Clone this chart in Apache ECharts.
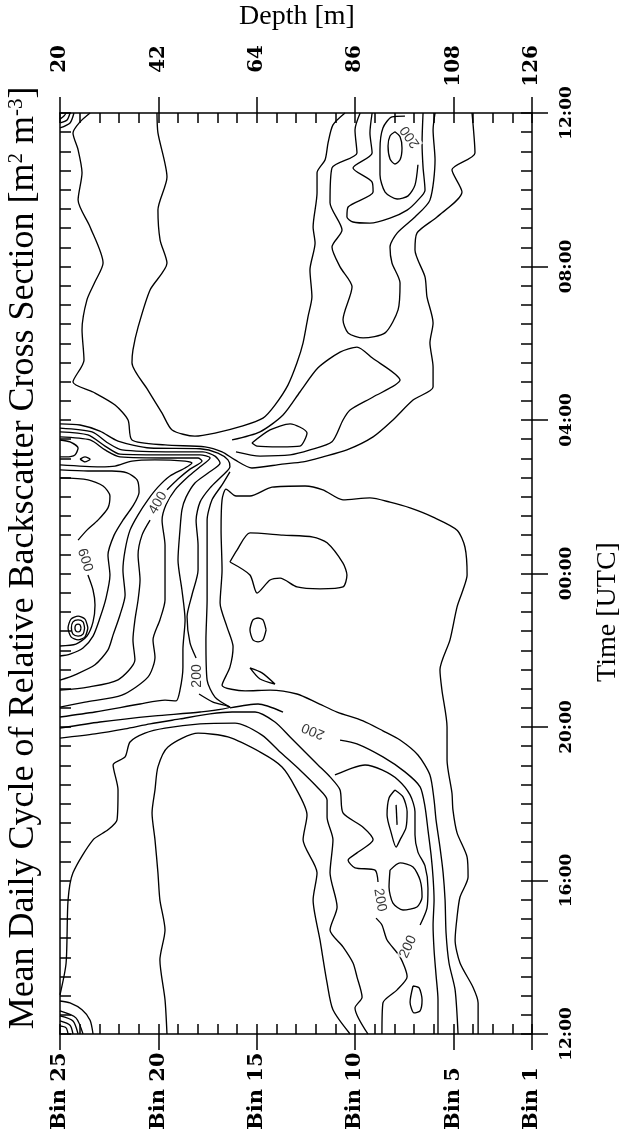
<!DOCTYPE html>
<html>
<head>
<meta charset="utf-8">
<script src="https://cdn.jsdelivr.net/npm/echarts@6/dist/echarts.min.js"></script>
<style>
html, body { margin: 0; padding: 0; background: #fff; }
#chart { width: 635px; height: 1140px; }
</style>
</head>
<body>
<div id="chart"></div>
<script>
// x = ADCP bin (25 left .. 1 right), y = time of day in hours, 12 .. 36 (12:00 to 12:00 next day)
var binTicks = [25, 20, 15, 10, 5, 1];
var depthTicks = ['20', '42', '64', '86', '108', '126'];
var hourTicks = [12, 16, 20, 24, 28, 32, 36];

// contour lines, [bin, hour]
var cornerTop1 = [[24.69,36.00],[24.80,35.92],[25.00,35.84]];
var cornerTop2 = [[24.49,36.00],[24.64,35.82],[25.00,35.74]];
var cornerTop3 = [[24.29,36.00],[24.49,35.74],[25.00,35.61]];

var morningEdge = [[23.47,36.00],[23.98,35.77],[24.34,35.48],[24.08,35.04],[23.88,34.44],[24.08,33.73],[23.47,33.03],[22.81,32.09],[23.22,31.60],[23.63,31.13],[23.88,30.35],[23.78,29.56],[24.34,28.99],[23.32,28.73],[22.20,28.39],[21.54,28.00],[21.34,27.48],[19.66,27.35],[17.63,27.30],[16.76,27.17],[16.10,26.96],[15.24,26.75],[13.71,26.85],[12.64,26.91],[11.63,27.04],[10.41,27.22],[9.08,27.56],[8.07,28.00],[7.05,28.52],[6.03,28.86],[6.03,29.38],[6.19,30.01],[6.03,30.53],[6.34,31.21],[6.44,31.73],[6.95,32.43],[6.85,32.87],[5.83,33.29],[4.56,33.94],[5.07,34.52],[3.90,34.96],[4.05,36.00]];
var morningLow = [[20.07,36.00],[20.02,35.48],[19.56,34.33],[20.02,33.47],[19.91,32.69],[19.56,32.09],[20.42,31.39],[21.03,30.42],[21.29,29.83],[21.34,29.49],[20.53,28.78],[19.81,28.18],[19.30,27.74],[18.14,27.58],[17.12,27.66],[15.75,27.84],[14.68,28.05],[14.07,28.39],[13.41,28.91],[12.95,29.49],[12.64,30.01],[12.39,30.69],[12.19,31.21],[12.29,31.91],[12.03,32.61],[12.13,33.03],[11.93,33.92],[11.93,34.44],[11.52,34.78],[11.37,35.22],[11.12,35.69],[10.51,36.00]];
var morningHigh1 = [[9.74,36.00],[10.00,35.56],[9.90,34.96],[11.17,34.57],[11.27,33.66],[10.66,32.95],[11.17,32.51],[10.76,31.99],[10.15,31.47],[10.61,30.61],[10.35,30.27],[9.59,30.14],[8.47,30.27],[7.81,30.87],[7.71,31.57],[8.12,32.09],[8.22,32.51],[7.86,32.87],[6.95,33.29],[6.19,33.73],[5.93,34.78],[6.03,35.56],[5.93,36.00]];
var morningHigh2 = [[9.13,36.00],[9.24,35.48],[9.13,34.96],[10.10,34.57],[9.13,34.20],[9.08,33.94],[10.35,33.55],[10.41,33.29],[10.10,33.16],[9.24,33.13],[8.22,33.26],[7.35,33.47],[6.80,33.73],[6.44,33.99],[6.54,34.59],[6.59,35.22],[6.54,36.00]];
var morningHigh3 = [[7.46,35.92],[8.12,35.90],[8.58,35.61],[8.73,35.04],[8.73,34.39],[8.47,33.94],[7.86,33.76],[7.30,33.84],[6.95,34.12],[6.80,34.65]];
var morningCore = [[7.97,35.51],[7.71,35.38],[7.61,35.09],[7.71,34.78],[7.97,34.67],[8.22,34.80],[8.32,35.14],[8.22,35.40],[7.97,35.51]];
var dawnTongue = [[16.25,27.48],[14.83,27.69],[13.66,28.13],[12.80,28.73],[11.88,29.36],[10.76,29.77],[9.90,29.90],[9.13,29.62],[7.71,29.04],[9.08,28.60],[10.25,28.26],[10.61,28.00],[11.17,27.43],[12.29,27.22],[13.30,27.09],[14.83,27.06],[16.05,27.17]];
var dawnLoop = [[15.24,27.40],[14.32,27.74],[13.30,27.90],[12.44,27.66],[12.80,27.32],[13.81,27.30],[14.98,27.32],[15.24,27.40]];

var night200a = [[25.00,27.90],[23.98,27.87],[22.97,27.71],[22.05,27.45],[20.42,27.27],[17.88,27.25],[16.97,27.14],[16.46,26.96],[16.36,26.78],[16.76,26.54],[17.37,26.23],[17.88,25.86],[18.08,25.39],[17.98,24.74],[17.98,24.09],[18.29,23.44],[18.54,22.87],[18.39,22.19],[18.08,21.80]];
var night200b = [[17.93,20.86],[17.22,20.65],[16.36,20.52],[17.88,20.39],[20.17,20.29],[22.97,20.13],[25.00,19.97]];
var nightOuter = [[16.36,26.65],[16.76,26.31],[17.27,25.92],[17.52,25.39],[17.52,24.35],[17.52,23.31],[17.58,22.27],[17.52,21.22],[17.12,20.78],[16.36,20.52]];
var night3 = [[25.00,27.79],[23.37,27.69],[22.56,27.40],[21.85,27.22],[19.15,27.17],[17.73,27.17],[17.12,27.06],[16.86,26.88],[17.47,26.62],[18.14,26.36],[18.59,25.99],[18.80,25.66],[18.90,25.13],[19.00,24.35],[18.80,23.57],[18.64,22.79],[18.75,22.01],[18.75,21.56],[18.90,20.96],[19.10,20.68],[19.66,20.70],[20.93,20.60],[23.22,20.39],[25.00,20.26]];
var night4 = [[25.00,27.69],[23.58,27.61],[22.71,27.32],[21.95,27.11],[19.30,27.09],[17.88,27.09],[17.37,27.01],[17.88,26.78],[18.49,26.52],[19.15,26.18],[19.61,25.79],[19.81,25.39],[19.66,24.74],[19.66,24.09],[19.66,23.31],[19.92,22.79],[20.27,22.27],[20.17,21.82],[20.53,21.30],[21.85,20.83],[23.73,20.65],[25.00,20.52]];
var night400a = [[25.00,27.56],[23.47,27.48],[22.71,27.22],[21.95,27.04],[19.30,27.01],[17.98,27.01],[17.78,26.93],[18.39,26.72],[19.00,26.46],[19.56,26.18]];
var night400b = [[20.42,25.39],[20.83,25.00],[21.03,24.48],[20.93,23.83],[21.03,23.31],[21.19,22.79],[21.29,22.27],[21.19,21.75],[22.05,21.23],[23.58,21.04],[25.00,20.96]];
var night6 = [[25.00,26.83],[22.97,26.78],[22.20,26.80],[21.34,26.93],[20.17,26.96],[18.64,26.93],[18.29,26.88],[18.64,26.75],[19.41,26.54],[20.02,26.25],[20.53,25.92],[21.03,25.53],[21.44,25.13],[21.69,24.61],[21.80,24.09],[21.69,23.44],[21.95,22.92],[22.30,22.40],[22.56,22.01],[23.22,21.62],[24.24,21.36],[25.00,21.22]];
var night7 = [[25.00,26.70],[23.58,26.67],[22.36,26.67],[21.59,26.62],[21.08,26.44],[20.98,26.12],[21.29,25.76],[21.80,25.39],[22.25,25.00],[22.56,24.48],[22.46,23.96],[22.66,23.36],[22.97,22.84],[23.32,22.37],[23.83,22.06],[24.49,21.90],[25.00,21.85]];
var night600a = [[25.00,26.49],[23.58,26.44],[22.81,26.28],[22.46,26.02],[22.56,25.71],[23.07,25.39],[23.63,25.13],[24.08,24.87]];
var night600b = [[23.58,23.96],[23.32,23.57],[23.22,23.18],[23.32,22.74],[23.63,22.37],[24.19,22.16],[25.00,22.11]];
var nightRing1 = [[23.93,22.58],[23.98,22.50],[24.08,22.48],[24.19,22.50],[24.24,22.58],[24.19,22.66],[24.08,22.68],[23.98,22.66],[23.93,22.58]];
var nightRing2 = [[23.75,22.58],[23.83,22.42],[24.08,22.37],[24.34,22.42],[24.42,22.58],[24.34,22.74],[24.08,22.79],[23.83,22.74],[23.75,22.58]];
var nightRing3 = [[23.58,22.58],[23.73,22.35],[24.08,22.27],[24.44,22.35],[24.59,22.58],[24.44,22.81],[24.08,22.89],[23.73,22.81],[23.58,22.58]];
var edgeLoop = [[25.00,27.48],[24.49,27.43],[24.08,27.27],[24.24,27.09],[24.69,27.04],[25.00,27.04]];
var edgeDot = [[23.98,26.98],[23.73,27.04],[23.47,26.98],[23.73,26.91],[23.98,26.98]];

var outerBend = [[3.74,12.00],[3.74,12.81],[4.00,13.22],[4.66,13.85],[4.91,14.45],[4.81,15.05],[4.66,15.57],[4.25,16.09],[4.30,16.61],[4.81,17.24],[5.02,17.84],[5.07,18.28],[5.32,19.14],[5.32,20.00],[5.58,20.96],[5.68,21.49],[5.17,22.27],[4.81,23.13],[4.51,23.57],[4.30,23.96],[4.41,24.69],[4.81,25.13],[6.03,25.47],[7.20,25.71],[8.22,25.86],[9.24,25.97],[10.61,25.92],[11.63,26.18],[12.54,26.28],[14.22,26.25],[15.34,26.02],[16.05,26.02],[16.56,26.20],[16.76,25.92],[16.81,25.13],[16.76,24.09],[16.86,23.23],[16.51,22.61],[16.20,22.09],[16.36,21.56],[16.76,21.09],[15.59,20.94],[14.32,20.96],[12.95,20.86],[11.93,20.63],[10.91,20.39],[9.59,20.16],[8.58,19.90],[7.71,19.66],[6.80,19.27],[6.19,18.75],[5.98,18.10],[5.88,17.58],[5.68,16.87],[5.52,16.20],[5.42,15.49],[5.37,14.63],[5.22,13.85],[4.91,13.15],[4.76,12.00]];
var midLoop = [[16.36,24.30],[16.00,24.61],[15.34,25.06],[13.66,25.00],[12.13,24.95],[11.42,24.80],[10.61,24.27],[10.41,23.96],[10.61,23.65],[11.78,23.60],[12.95,23.65],[13.81,23.88],[14.32,23.83],[14.98,23.49],[15.34,23.96],[16.36,24.30]];
var midDot = [[14.52,22.53],[14.68,22.27],[14.93,22.22],[15.19,22.27],[15.34,22.53],[15.19,22.79],[14.93,22.84],[14.68,22.79],[14.52,22.53]];
var midSliver = [[15.34,21.54],[14.73,21.41],[14.07,21.12],[14.83,21.25],[15.34,21.54]];

var eveningLow = [[19.56,12.00],[19.66,12.89],[19.92,13.93],[19.66,14.71],[19.92,15.49],[20.02,16.20],[20.17,17.06],[20.32,17.76],[20.17,18.36],[20.02,18.96],[19.51,19.48],[17.98,19.84],[16.46,19.74],[14.73,19.32],[13.71,18.96],[13.05,18.44],[12.44,17.71],[12.64,17.06],[11.93,16.20],[12.13,15.49],[11.78,14.45],[11.42,13.33],[11.12,12.63],[10.25,12.00]];
var eveningEdge = [[25.00,13.02],[24.69,13.85],[24.59,15.49],[24.34,16.20],[23.32,17.06],[22.56,17.32],[22.10,17.58],[22.05,18.36],[22.30,19.01],[21.69,19.22],[21.44,19.61],[20.68,19.84],[19.66,19.97],[17.88,20.08],[16.10,20.10],[14.73,19.79],[13.81,19.35],[12.80,18.88],[11.88,18.41],[11.42,18.10],[11.42,17.65],[11.12,17.06],[11.27,16.20],[10.91,15.31],[11.27,14.71],[10.61,14.27],[10.10,13.85],[9.90,13.49],[9.64,12.96],[10.00,12.68],[9.34,12.00]];
var evening200a = [[25.00,19.71],[23.22,19.82],[21.69,19.95],[20.42,20.08],[18.90,20.21],[17.37,20.34],[16.25,20.39],[15.08,20.39],[14.07,20.13],[13.30,19.74],[12.54,19.35],[11.88,19.01],[11.27,18.70],[10.76,18.36],[10.61,17.76],[9.59,17.39],[9.08,17.06],[9.90,16.72],[10.35,16.53],[10.00,16.33],[8.98,16.27],[8.83,15.96]];
var evening200b = [[8.93,15.02],[8.63,14.84],[8.37,14.45],[7.71,14.01],[7.35,13.49],[7.86,13.15],[8.58,12.81],[8.63,12.00]];
var eveningInner = [[11.02,18.75],[10.15,18.93],[9.49,19.01],[8.63,18.88],[7.81,18.62],[7.20,18.23],[6.95,17.79],[6.95,17.19],[6.80,16.74],[6.44,16.38],[6.29,15.80],[6.34,15.28],[6.69,14.84]];
var eveningBand1 = [[16.36,20.50],[14.93,20.60],[13.66,20.39]];
var eveningBand2 = [[10.76,19.66],[9.90,19.56],[8.58,19.22],[7.46,18.83],[6.69,18.44],[6.44,17.92],[6.29,17.32],[6.13,16.66],[6.03,16.07],[5.98,15.49],[6.03,14.84],[5.98,14.19],[5.88,13.54],[5.78,12.89],[5.78,12.00]];
var eveningCoreA = [[7.97,18.36],[7.56,18.18],[7.35,17.79],[7.41,17.37],[7.71,17.06],[7.91,16.87],[8.17,17.26],[8.37,17.71],[8.27,18.15],[7.97,18.36]];
var eveningCoreA2 = [[7.91,17.97],[7.86,17.45]];
var eveningCoreB = [[8.22,16.27],[7.71,16.46],[7.05,16.35],[6.69,16.01],[6.59,15.57],[6.85,15.31],[7.56,15.23],[8.07,15.41],[8.27,15.83],[8.22,16.27]];
var eveningCoreC = [[7.05,13.25],[6.74,13.20],[6.59,12.89],[6.69,12.60],[7.00,12.55],[7.20,12.83],[7.05,13.25]];
var cornerBot1 = [[24.59,12.00],[24.69,12.16],[25.00,12.21]];
var cornerBot2 = [[24.34,12.00],[24.49,12.23],[25.00,12.34]];
var cornerBot3 = [[24.08,12.00],[24.34,12.34],[25.00,12.47]];
var cornerBot4 = [[23.83,12.00],[24.19,12.42],[25.00,12.60]];
var cornerBot5 = [[23.32,12.00],[23.47,12.36],[23.88,12.63],[24.49,12.81],[25.00,12.86]];

// contour labels
var labelPos = [[7.20,35.38],[20.02,25.84],[23.73,24.35],[18.03,21.33],[12.13,19.90],[8.73,15.49],[7.30,14.27]];
var labelText = ['200', '400', '600', '200', '200', '200', '200'];
var labelAngle = [125, 60, -73, 90, 158, -80, 65];

var contourLines = [cornerTop1, cornerTop2, cornerTop3, morningEdge, morningLow, morningHigh1, morningHigh2,
  morningHigh3, morningCore, dawnTongue, dawnLoop, night200a, night200b, nightOuter, night3, night4, night400a,
  night400b, night6, night7, night600a, night600b, nightRing1, nightRing2, nightRing3, edgeLoop, edgeDot,
  outerBend, midLoop, midDot, midSliver, eveningLow, eveningEdge, evening200a, evening200b, eveningInner,
  eveningBand1, eveningBand2, eveningCoreA, eveningCoreA2, eveningCoreB, eveningCoreC, cornerBot1, cornerBot2,
  cornerBot3, cornerBot4, cornerBot5];

var tickFont = 'DejaVu Serif';
var black = { color: '#000', width: 1.5 };

function pad2(n) { return (n < 10 ? '0' : '') + n; }

var myChart = echarts.init(document.getElementById('chart'));

var series = contourLines.map(function (d) {
  return {
    type: 'line',
    data: d,
    symbol: 'none',
    smooth: 0.25,
    silent: true,
    z: 2,
    lineStyle: { color: '#000', width: 1.35 }
  };
});
series.push({
  type: 'scatter',
  symbolSize: 1,
  silent: true,
  z: 4,
  itemStyle: { color: 'rgba(0,0,0,0)' },
  data: labelPos.map(function (p, i) {
    return { value: p, name: labelText[i], label: { rotate: labelAngle[i] } };
  }),
  label: {
    show: true,
    position: 'inside',
    formatter: '{b}',
    color: '#000',
    fontFamily: 'Liberation Sans',
    fontSize: 14,
    backgroundColor: '#fff',
    padding: [0, 1]
  }
});

myChart.setOption({
  animation: false,
  backgroundColor: '#fff',
  grid: { left: 60, right: 103, top: 113, bottom: 106 },
  xAxis: [
    {
      type: 'value', position: 'bottom', min: 1, max: 25, inverse: true,
      axisLine: { show: true, lineStyle: black },
      axisTick: { show: true, inside: false, length: 16, customValues: binTicks, lineStyle: black },
      axisLabel: {
        show: true, customValues: binTicks, rotate: 90, align: 'left', verticalAlign: 'middle', margin: 96,
        padding: [6, 0, 0, 0],
        formatter: function (v) { return 'Bin ' + v; },
        fontFamily: tickFont, fontWeight: 'bold', fontSize: 21, color: '#000'
      },
      splitLine: { show: false }
    },
    {
      type: 'value', position: 'bottom', min: 1, max: 25, inverse: true, interval: 1,
      axisLine: { show: false },
      axisTick: { show: true, inside: true, length: 10, lineStyle: black },
      axisLabel: { show: false },
      splitLine: { show: false }
    },
    {
      // top axis: ECharts mirrors the rotation here, -90 reads bottom to top
      type: 'value', position: 'top', min: 1, max: 25, inverse: true,
      axisLine: { show: true, lineStyle: black },
      axisTick: { show: true, inside: false, length: 16, customValues: binTicks, lineStyle: black },
      axisLabel: {
        show: true, customValues: binTicks, rotate: -90, align: 'right', verticalAlign: 'middle', margin: 68,
        formatter: function (v) { return depthTicks[binTicks.indexOf(v)]; },
        fontFamily: tickFont, fontWeight: 'bold', fontSize: 20, color: '#000'
      },
      splitLine: { show: false }
    },
    {
      type: 'value', position: 'top', min: 1, max: 25, inverse: true, interval: 1,
      axisLine: { show: false },
      axisTick: { show: true, inside: true, length: 10, lineStyle: black },
      axisLabel: { show: false },
      splitLine: { show: false }
    }
  ],
  yAxis: [
    {
      type: 'value', position: 'right', min: 12, max: 36, interval: 4,
      axisLine: { show: true, lineStyle: black },
      axisTick: { show: true, inside: false, length: 16, lineStyle: black },
      axisLabel: {
        show: true, rotate: 90, align: 'center', verticalAlign: 'middle', margin: 35,
        formatter: function (v) { return pad2(v % 24) + ':00'; },
        fontFamily: tickFont, fontWeight: 'bold', fontSize: 17, color: '#000'
      },
      splitLine: { show: false }
    },
    {
      type: 'value', position: 'right', min: 12, max: 36, interval: 0.5,
      axisLine: { show: false },
      axisTick: { show: true, inside: true, length: 11, lineStyle: black },
      axisLabel: { show: false },
      splitLine: { show: false }
    },
    {
      type: 'value', position: 'left', min: 12, max: 36, interval: 0.5,
      axisLine: { show: true, lineStyle: black },
      axisTick: { show: true, inside: true, length: 11, lineStyle: black },
      axisLabel: { show: false },
      splitLine: { show: false }
    }
  ],
  graphic: [
    {
      type: 'text', x: 24, y: 558, rotation: Math.PI / 2,
      style: {
        text: '{t|Mean Daily Cycle of Relative Backscatter Cross Section [m}{s|2}{t| m}{s|-3}{t|]}',
        rich: {
          t: { fontFamily: 'Liberation Serif', fontSize: 36, fill: '#000', color: '#000' },
          s: { fontFamily: 'Liberation Serif', fontSize: 21, fill: '#000', color: '#000', verticalAlign: 'top' }
        },
        textAlign: 'center', textVerticalAlign: 'middle', align: 'center', verticalAlign: 'middle'
      }
    },
    {
      type: 'text', x: 297, y: 17,
      style: {
        text: 'Depth [m]', font: '28px "Liberation Serif"', fill: '#000',
        textAlign: 'center', textVerticalAlign: 'middle', align: 'center', verticalAlign: 'middle'
      }
    },
    {
      type: 'text', x: 608, y: 612, rotation: Math.PI / 2,
      style: {
        text: 'Time [UTC]', font: '28px "Liberation Serif"', fill: '#000',
        textAlign: 'center', textVerticalAlign: 'middle', align: 'center', verticalAlign: 'middle'
      }
    }
  ],
  series: series
});
</script>
</body>
</html>
